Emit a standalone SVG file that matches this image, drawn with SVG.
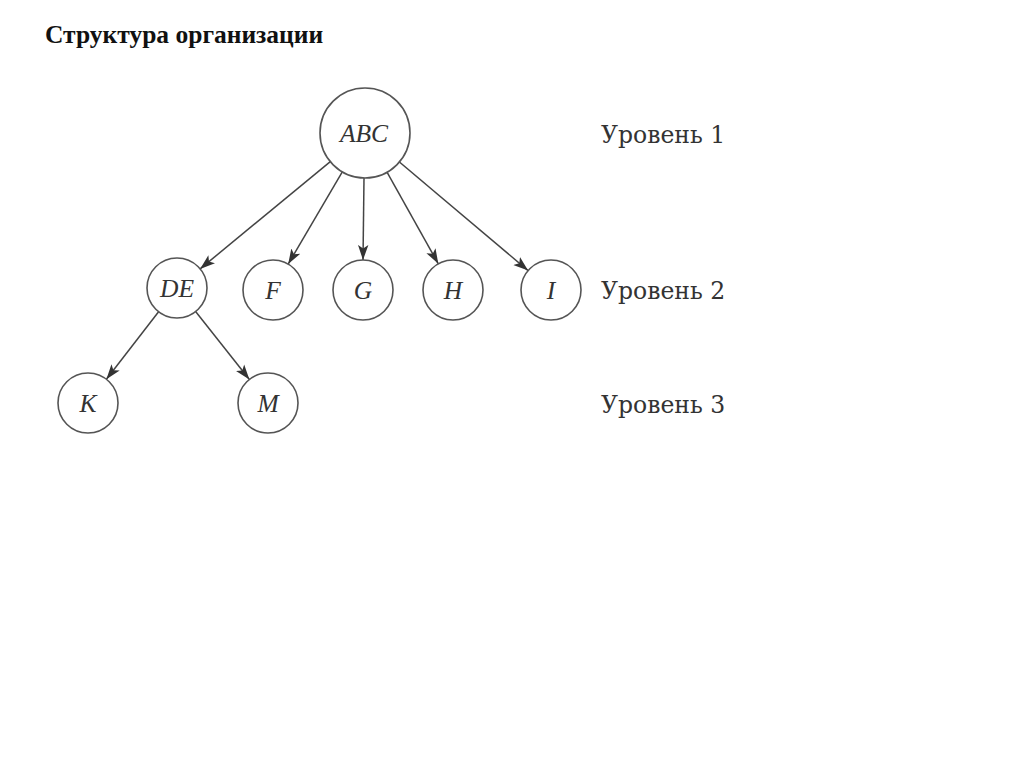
<svg xmlns="http://www.w3.org/2000/svg" width="1024" height="767" viewBox="0 0 1024 767">
<defs>
<marker id="arr" markerUnits="userSpaceOnUse" markerWidth="16" markerHeight="12" refX="15" refY="6" orient="auto">
<path d="M0,0.8 L15,6 L0,11.2 L3.5,6 Z" fill="#333"/>
</marker>
<style>
.node circle{fill:#fff;stroke:#555;stroke-width:1.6}
.node text{font-family:"Liberation Serif","DejaVu Serif",serif;font-style:italic;font-size:25.5px;fill:#333;text-anchor:middle}
.lvl{font-family:"DejaVu Serif","Liberation Serif",serif;font-size:23.5px;fill:#333}
#connectors line{stroke:#444;stroke-width:1.5;marker-end:url(#arr)}
</style>
</defs>
<rect width="1024" height="767" fill="#fff"/>
<text x="45" y="43" font-family="Liberation Serif,serif" font-weight="bold" font-size="25.5" fill="#111">Структура организации</text>
<g id="connectors">
<line x1="330.3" y1="161.6" x2="200.1" y2="268.9"/>
<line x1="342.3" y1="171.8" x2="288.2" y2="264.1"/>
<line x1="364" y1="178" x2="363" y2="260"/>
<line x1="387" y1="172.2" x2="438.3" y2="263.8"/>
<line x1="399.4" y1="162" x2="528.1" y2="270.6"/>
<line x1="158.6" y1="311.7" x2="106.4" y2="379.3"/>
<line x1="195.6" y1="311.5" x2="249.4" y2="379.5"/>
</g>
<g id="ABC" class="node"><circle cx="365" cy="133" r="45"/><text x="364" y="142">ABC</text></g>
<g id="DE" class="node"><circle cx="177" cy="288" r="30"/><text x="177" y="297">DE</text></g>
<g id="F" class="node"><circle cx="273" cy="290" r="30"/><text x="273" y="299">F</text></g>
<g id="G" class="node"><circle cx="363" cy="290" r="30"/><text x="363" y="299">G</text></g>
<g id="H" class="node"><circle cx="453" cy="290" r="30"/><text x="453" y="299">H</text></g>
<g id="I" class="node"><circle cx="551" cy="290" r="30"/><text x="551" y="299">I</text></g>
<g id="K" class="node"><circle cx="88" cy="403" r="30"/><text x="88" y="412">K</text></g>
<g id="M" class="node"><circle cx="268" cy="403" r="30"/><text x="268" y="412">M</text></g>
<text class="lvl" x="601" y="143">Уровень 1</text>
<text class="lvl" x="601" y="299">Уровень 2</text>
<text class="lvl" x="601" y="413">Уровень 3</text>
</svg>
